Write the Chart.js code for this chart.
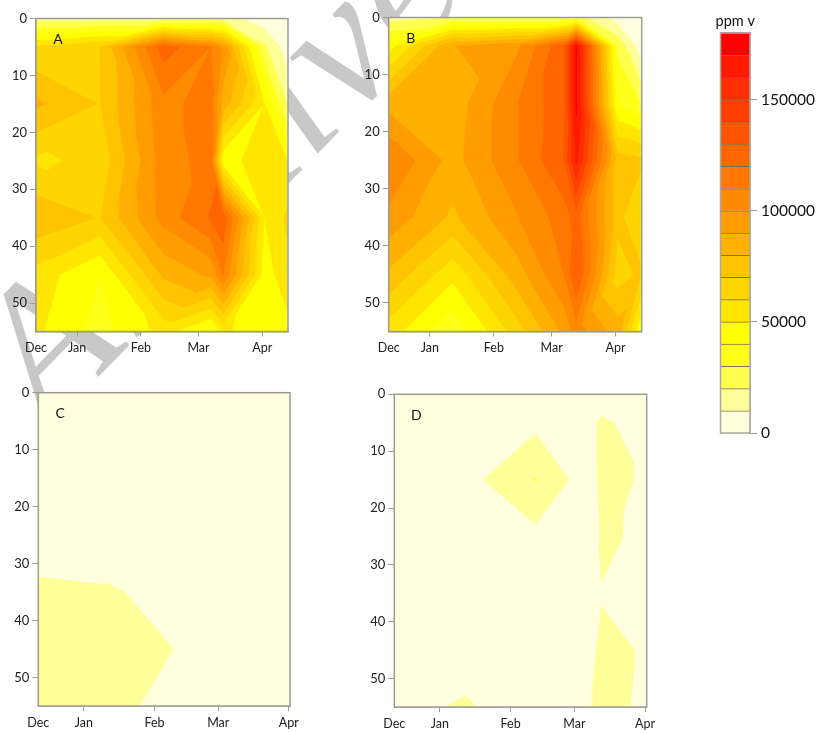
<!DOCTYPE html>
<html>
<head>
<meta charset="utf-8">
<script src="https://cdn.jsdelivr.net/npm/chart.js@4"></script>
<style>
  html, body { margin: 0; padding: 0; background: #fff; }
  #page { position: relative; width: 818px; height: 733px; overflow: hidden; }
  #page canvas { position: absolute; filter: blur(0.5px); }
  #mark { position: absolute; left: 0; top: 0; }
  #mark text { font: italic 190px "Liberation Serif", serif; fill: #c8c8c8; letter-spacing: 3px; }
</style>
</head>
<body>
<div id="page">
  <svg id="mark" width="818" height="733"><text transform="translate(48,428) rotate(-45.5)">Archive of SID</text></svg>
  <canvas id="panelA" width="340" height="370" style="left:0;top:0"></canvas>
  <canvas id="panelB" width="340" height="370" style="left:340px;top:0"></canvas>
  <canvas id="panelC" width="340" height="353" style="left:0;top:380px"></canvas>
  <canvas id="panelD" width="340" height="353" style="left:340px;top:380px"></canvas>
  <canvas id="scaleBar" width="128" height="450" style="left:690px;top:0"></canvas>
</div>
<script>
// depth rows shared by all panels
const depths = [0, 5, 15, 25, 35, 45, 55];
const depthTicks = [0, 10, 20, 30, 40, 50];

// x is days from the left edge of the panel
const monthTicks = [0, 20, 51, 79, 110];
const monthLabels = ["Dec", "Jan", "Feb", "Mar", "Apr"];

const daysAB = [0, 31, 62, 85, 91, 111, 122];
const valuesA = [
  [15000, 15000, 15000, 15000, 15000, 4000, 2000],
  [61000, 70000, 125000, 110000, 98000, 22000, 5000],
  [82000, 69500, 107000, 114000, 85000, 50000, 20000],
  [58000, 63000, 105000, 114000, 42000, 60000, 50000],
  [78000, 69500, 104000, 121000, 128000, 50000, 62000],
  [56000, 40000, 82000, 92000, 110000, 45000, 56000],
  [52000, 36000, 54000, 38000, 52000, 43000, 46000]
];
const valuesB = [
  [15000, 20000, 20000, 20000, 25000, 5000, 3000],
  [45000, 89500, 98000, 128000, 172000, 28000, 5000],
  [86000, 84000, 109000, 128000, 172000, 38000, 30000],
  [110000, 86000, 109000, 130000, 163000, 75000, 72000],
  [97000, 78000, 99000, 115000, 125000, 73000, 62000],
  [78000, 53000, 85000, 110000, 130000, 65000, 72000],
  [55000, 32000, 65000, 92000, 105000, 85000, 42000]
];

const daysC = [0, 31, 62, 91, 111];
const valuesC = [
  [2000, 2000, 2000, 2000, 2000],
  [4000, 4000, 4000, 4000, 3000],
  [5000, 5000, 5000, 4000, 3000],
  [7000, 7000, 6000, 4000, 3000],
  [11100, 10500, 8300, 5000, 3000],
  [14000, 12000, 9800, 5000, 3000],
  [13000, 11000, 8700, 5000, 3000]
];

const daysD = [0, 31, 62, 85, 91, 111];
const valuesD = [
  [1000, 1000, 1000, 1000, 0, 0],
  [3000, 3000, 7500, 5000, 13000, 2000],
  [3000, 6300, 20500, 4000, 13000, 8700],
  [3000, 4000, 7200, 4000, 11200, 8600],
  [3000, 3000, 3000, 6000, 9700, 6000],
  [4000, 3000, 2500, 8700, 11000, 9600],
  [5000, 11750, 1500, 9500, 11000, 9400]
];

// colour scale
const bandSize = 10000;
const bandColors = [
  "#ffffe0", "#ffff99", "#ffff4d", "#ffff1a", "#ffff00", "#ffe600",
  "#ffd500", "#ffc300", "#ffb000", "#ff9d00", "#ff8b00", "#ff7800",
  "#ff6600", "#ff5400", "#ff4000", "#ff2e00", "#ff1a00", "#ff0000"
];
const scaleTicks = [0, 50000, 100000, 150000];

const frameColor = "#9c9c90";

function gridPoints(days, values) {
  const pts = [];
  values.forEach((row, r) => row.forEach((v, c) => pts.push({ x: days[c], y: depths[r], v })));
  return pts;
}

// keep the part of a polygon at or above the level
function clipAbove(poly, level) {
  const out = [];
  poly.forEach((p, i) => {
    const q = poly[(i + 1) % poly.length];
    if (p.v >= level) out.push(p);
    if ((p.v >= level) !== (q.v >= level)) {
      const t = (level - p.v) / (q.v - p.v);
      out.push({ x: p.x + (q.x - p.x) * t, y: p.y + (q.y - p.y) * t, v: level });
    }
  });
  return out;
}

const contourPlugin = {
  id: "contour",
  beforeDatasetsDraw(chart) {
    const { ctx, chartArea: area, scales } = chart;
    const data = chart.data.datasets[0].data;
    const nCols = data.length / depths.length;
    const cell = (r, c) => {
      const d = data[r * nCols + c];
      return { x: scales.x.getPixelForValue(d.x), y: scales.y.getPixelForValue(d.y), v: d.v };
    };
    const tris = [];
    for (let r = 0; r < depths.length - 1; r++) {
      for (let c = 0; c < nCols - 1; c++) {
        const a = cell(r, c), b = cell(r, c + 1), d = cell(r + 1, c), e = cell(r + 1, c + 1);
        // the corner furthest from the others gets cut off by the diagonal
        const mean = (a.v + b.v + d.v + e.v) / 4;
        const off = Math.max(Math.abs(a.v - mean), Math.abs(e.v - mean));
        const off2 = Math.max(Math.abs(b.v - mean), Math.abs(d.v - mean));
        if (off >= off2) {
          tris.push([a, b, d], [b, e, d]);
        } else {
          tris.push([a, b, e], [a, e, d]);
        }
      }
    }
    ctx.save();
    ctx.beginPath();
    ctx.rect(area.left, area.top, area.width, area.height);
    ctx.clip();
    ctx.fillStyle = bandColors[0];
    ctx.fillRect(area.left, area.top, area.width, area.height);
    ctx.lineWidth = 0.5;
    ctx.lineJoin = "round";
    bandColors.forEach((color, i) => {
      if (i === 0) return;
      ctx.fillStyle = color;
      ctx.strokeStyle = color;
      tris.forEach(tri => {
        const poly = clipAbove(tri, i * bandSize);
        if (poly.length < 3) return;
        ctx.beginPath();
        poly.forEach((p, k) => k ? ctx.lineTo(p.x, p.y) : ctx.moveTo(p.x, p.y));
        ctx.closePath();
        ctx.fill();
        ctx.stroke();
      });
    });
    ctx.restore();
  },
  afterDraw(chart) {
    const { ctx, chartArea: area } = chart;
    ctx.save();
    ctx.strokeStyle = frameColor;
    ctx.lineWidth = 1.5;
    ctx.strokeRect(area.left, area.top, area.width, area.height);
    ctx.fillStyle = "#111";
    ctx.font = "14px Lato";
    ctx.textAlign = "center";
    ctx.textBaseline = "middle";
    ctx.fillText(chart.options.plugins.contour.letter, area.left + 22, area.top + 21);
    ctx.restore();
  }
};

function drawPanel(id, days, values, letter, box) {
  new Chart(document.getElementById(id), {
    type: "scatter",
    data: { datasets: [{ data: gridPoints(days, values), pointRadius: 0, showLine: false }] },
    options: {
      responsive: false,
      animation: false,
      layout: { padding: { top: box.top, right: box.right, left: 0, bottom: 0 } },
      plugins: { legend: { display: false }, tooltip: { enabled: false }, contour: { letter } },
      scales: {
        x: {
          type: "linear",
          min: 0,
          max: box.maxDay,
          afterBuildTicks: axis => { axis.ticks = monthTicks.map(value => ({ value })); },
          afterFit: axis => { axis.height = box.bottom; },
          ticks: {
            autoSkip: false, maxRotation: 0, padding: 4, color: "#222",
            font: { family: "Lato", size: 12.5 },
            callback: v => monthLabels[monthTicks.indexOf(v)]
          },
          grid: {
            drawOnChartArea: false, tickLength: 5,
            tickColor: ctx => ctx.index === 0 ? "transparent" : frameColor
          },
          border: { color: frameColor, width: 1.5 }
        },
        y: {
          reverse: true,
          min: 0,
          max: 55,
          afterBuildTicks: axis => { axis.ticks = depthTicks.map(value => ({ value })); },
          afterFit: axis => { axis.width = box.left; },
          ticks: { padding: 3, color: "#222", font: { family: "Lato", size: 13 } },
          grid: { drawOnChartArea: false, tickLength: 6, tickColor: frameColor },
          border: { color: frameColor, width: 1.5 }
        }
      }
    },
    plugins: [contourPlugin]
  });
}

drawPanel("panelA", daysAB, valuesA, "A", { left: 36, top: 18.5, right: 52, bottom: 38.5, maxDay: 122.5 });
drawPanel("panelB", daysAB, valuesB, "B", { left: 48.7, top: 17.5, right: 38.3, bottom: 38.5, maxDay: 122.7 });
drawPanel("panelC", daysC, valuesC, "C", { left: 38.3, top: 12.7, right: 50, bottom: 27, maxDay: 110.5 });
drawPanel("panelD", daysD, valuesD, "D", { left: 54.3, top: 14.3, right: 33.3, bottom: 26, maxDay: 110.7 });

// colour bar
new Chart(document.getElementById("scaleBar"), {
  type: "bar",
  data: {
    labels: ["ppm v"],
    datasets: bandColors.map(color => ({
      data: [bandSize],
      backgroundColor: color,
      borderColor: "rgba(90,55,0,0.7)",
      borderWidth: { top: 1 },
      borderSkipped: false,
      barPercentage: 1,
      categoryPercentage: 1
    }))
  },
  options: {
    responsive: false,
    animation: false,
    layout: { padding: { top: 0, right: 0, left: 30.5, bottom: 17 } },
    plugins: { legend: { display: false }, tooltip: { enabled: false } },
    scales: {
      x: {
        position: "top",
        stacked: true,
        afterFit: axis => { axis.height = 33; },
        ticks: { color: "#111", padding: 3, font: { family: "Lato", size: 14.5 }, maxRotation: 0 },
        grid: { display: false, drawTicks: false },
        border: { color: frameColor, width: 1.5 }
      },
      y: {
        position: "right",
        stacked: true,
        min: 0,
        max: 180000,
        afterBuildTicks: axis => { axis.ticks = scaleTicks.map(value => ({ value })); },
        afterFit: axis => { axis.width = 68; },
        ticks: { padding: 4, color: "#111", font: { family: "Lato", size: 15.5 }, callback: v => String(v) },
        grid: { drawOnChartArea: false, tickLength: 7, tickColor: frameColor },
        border: { color: frameColor, width: 1.5 }
      }
    }
  },
  plugins: [{
    id: "barFrame",
    afterDraw(chart) {
      const { ctx, chartArea: area } = chart;
      ctx.save();
      ctx.strokeStyle = "#a8a8a0";
      ctx.lineWidth = 1.5;
      ctx.strokeRect(area.left, area.top, area.width, area.height);
      ctx.restore();
    }
  }]
});
</script>
</body>
</html>
